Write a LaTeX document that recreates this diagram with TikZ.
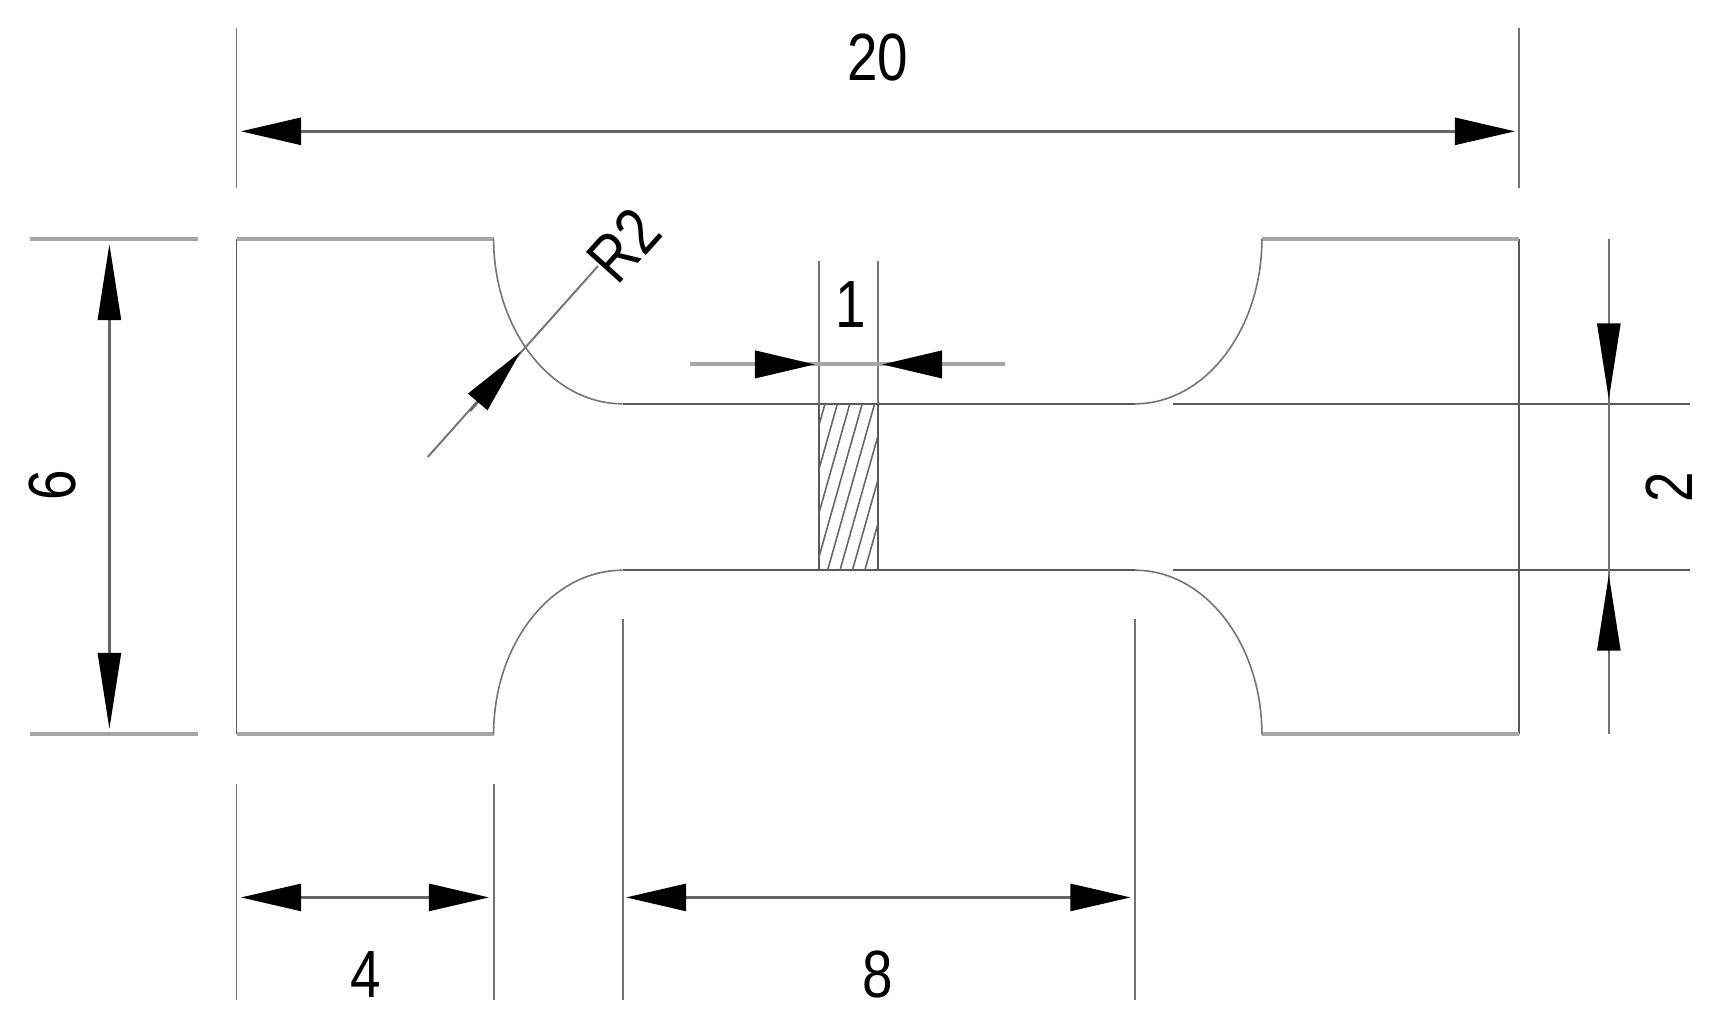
\documentclass[tikz,border=0pt]{standalone}
\usepackage{fontspec}
\setmainfont[FakeStretch=0.82]{Liberation Sans}
\usetikzlibrary{positioning,arrows.meta}
\tikzset{
     x=0.01cm,y=-0.01cm,
     outline/.style={line width=0.55pt,black!65},
     blurred/.style={line width=1.1pt,black!35},
     arcline/.style={line width=0.45pt,black!55},
     extline/.style={line width=0.55pt,black!55},
     hatchline/.style={line width=0.45pt,black!60},
     dim/.style={line width=0.7pt,black!60},
     tip/.tip={Triangle[length=0.6cm,width=0.27cm,color=black,fill=black]},
     tall/.tip={Triangle[length=0.76cm,width=0.23cm,color=black,fill=black]},
     slant/.tip={Triangle[length=0.66cm,width=0.25cm,color=black,fill=black]},
     dimboth/.style={dim,{tip}-{tip}},
     dimtall/.style={dim,{tall}-{tall}},
     dimend/.style={dim,-{tip}},
     label/.style={font=\fontsize{19}{19}\selectfont,inner sep=0pt,text=black}
     }
\begin{document}
\begin{tikzpicture}
                    \useasboundingbox (0,0) rectangle (1716,1026);
                    % Place outline corners
                    \coordinate (flangeTL) at (236.5,238.6);
                    \coordinate (cornerTL) at (493.6,238.6);
                    \coordinate (neckTL) at (622.7,403.8);
                    \coordinate (neckTR) at (1134.9,403.8);
                    \coordinate (cornerTR) at (1261.9,238.6);
                    \coordinate (flangeTR) at (1519,238.6);
                    \coordinate (flangeBR) at (1519,734.3);
                    \coordinate (cornerBR) at (1261.9,734.3);
                    \coordinate (neckBR) at (1134.9,570.2);
                    \coordinate (neckBL) at (622.7,570.2);
                    \coordinate (cornerBL) at (493.6,734.3);
                    \coordinate (flangeBL) at (236.5,734.3);
                    % Draw outline
                    \draw[outline] (flangeBL) -- (flangeTL);
                    \draw[outline] (flangeTR) -- (flangeBR);
                    \draw[blurred] (flangeTL) -- (cornerTL);
                    \draw[blurred] (cornerTR) -- (flangeTR);
                    \draw[blurred] (flangeBL) -- (cornerBL);
                    \draw[blurred] (cornerBR) -- (flangeBR);
                    \draw[arcline] (cornerTL) arc[start angle=180,end angle=90,x radius=129.1,y radius=165.2];
                    \draw[arcline] (neckTR) arc[start angle=90,end angle=0,x radius=127,y radius=165.2];
                    \draw[arcline] (cornerBL) arc[start angle=180,end angle=270,x radius=129.1,y radius=164.1];
                    \draw[arcline] (neckBR) arc[start angle=270,end angle=360,x radius=127,y radius=164.1];
                    \draw[outline] (neckTL) -- (neckTR);
                    \draw[outline] (neckBL) -- (neckBR);
                    % Hatched section
                    \coordinate (hatchTL) at (818.6,403.8);
                    \coordinate (hatchTR) at (877.7,403.8);
                    \coordinate (hatchBL) at (818.6,570.2);
                    \coordinate (hatchBR) at (877.7,570.2);
                    \draw[outline] (hatchTL) -- (hatchBL);
                    \draw[outline] (hatchTR) -- (hatchBR);
                    \begin{scope}
                        \clip (hatchTL) rectangle (hatchBR);
                        \foreach \hx in {-1,...,8} {
                            \draw[hatchline] (778+12.4*\hx,570.2) -- (825+12.4*\hx,403.8);
                        }
                    \end{scope}
                    % Extension lines
                    \draw[extline] (236.5,28) -- (236.5,188);
                    \draw[extline] (1519,28) -- (1519,188);
                    \draw[blurred] (30,238.6) -- (198,238.6);
                    \draw[blurred] (30,734.3) -- (198,734.3);
                    \draw[extline] (hatchTL) -- (818.6,260.5);
                    \draw[extline] (hatchTR) -- (877.7,260.5);
                    \draw[outline] (1173,403.8) -- (1690,403.8);
                    \draw[outline] (1173,570.2) -- (1690,570.2);
                    \draw[extline] (236.5,783.6) -- (236.5,1000);
                    \draw[extline] (493.6,783.6) -- (493.6,1000);
                    \draw[extline] (622.7,619.4) -- (622.7,1000);
                    \draw[extline] (1134.9,619.4) -- (1134.9,1000);
                    % Dimension arrows
                    \draw[dimboth] (241,131.3) -- (1515,131.3);
                    \draw[dimtall] (109.4,244) -- (109.4,729);
                    \draw[dimboth] (241,897.4) -- (489,897.4);
                    \draw[dimboth] (626,897.4) -- (1130.5,897.4);
                    \draw[dim,blurred] (689.5,364.4) -- (1004.6,364.4);
                    \draw[dimend,blurred] (760,364.4) -- (815,364.4);
                    \draw[dimend,blurred] (940,364.4) -- (882,364.4);
                    \draw[extline] (1608.8,238.6) -- (1608.8,734.3);
                    \draw[dim,-{tall}] (1608.8,325) -- (1608.8,399.5);
                    \draw[dim,-{tall}] (1608.8,653) -- (1608.8,574.6);
                    \draw[extline] (427.7,457) -- (598,266);
                    \draw[dim,-{slant}] (470,411) -- (520.6,351.7);
                    % Place labels
                    \node[label] (len20) at (877.7,57) {20};
                    \node[label,rotate=90] (wid6) at (52.5,485) {6};
                    \node[label,rotate=48] (rad2) at (624,245) {R2};
                    \node[label] (gauge1) at (851,304) {1};
                    \node[label,rotate=90] (neck2) at (1669,487) {2};
                    \node[label] (grip4) at (365.5,974) {4};
                    \node[label] (par8) at (877.7,974) {8};
                \end{tikzpicture}
\end{document}
